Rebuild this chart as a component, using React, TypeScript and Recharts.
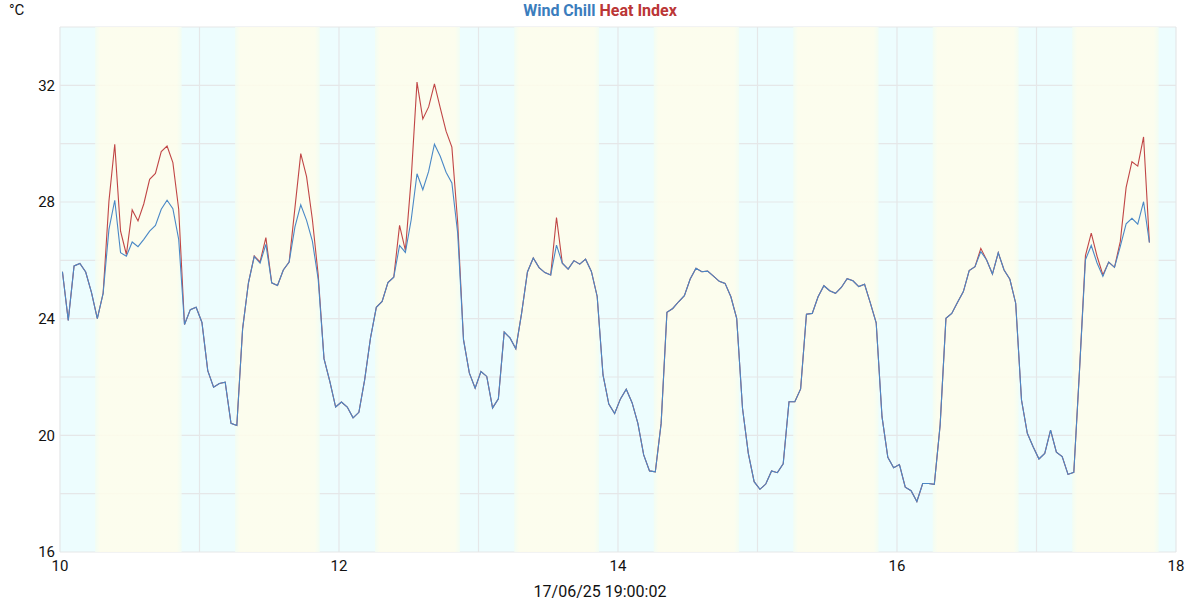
import React from "react";
import {
  LineChart,
  Line,
  XAxis,
  YAxis,
  CartesianGrid,
  ReferenceArea,
} from "recharts";

// Hourly readings, first reading at day 10 + ~24 min
const START_DAY = 10.0175;
const HOURS_PER_DAY = 24;

const windChill: number[] = [
  25.61, 23.94, 25.81, 25.89, 25.6, 24.89, 24.0, 24.87, 27.06, 28.06,
  26.26, 26.14, 26.63, 26.47, 26.72, 27.0, 27.2, 27.75, 28.06, 27.77,
  26.72, 23.8, 24.31, 24.39, 23.87, 22.22, 21.65, 21.78, 21.82, 20.41,
  20.34, 23.66, 25.23, 26.13, 25.9, 26.55, 25.23, 25.14, 25.67, 25.94,
  27.15, 27.9, 27.37, 26.66, 25.35, 22.63, 21.85, 20.97, 21.14, 20.97,
  20.6, 20.79, 21.91, 23.34, 24.39, 24.59, 25.24, 25.42, 26.51, 26.27,
  27.39, 28.97, 28.42, 29.05, 29.98, 29.57, 29.02, 28.65, 26.93, 23.28,
  22.14, 21.62, 22.19, 22.02, 20.94, 21.25, 23.54, 23.34, 22.97, 24.19,
  25.6, 26.08, 25.75, 25.58, 25.5, 26.52, 25.9, 25.7, 25.99, 25.87,
  26.04, 25.62, 24.76, 22.07, 21.07, 20.75, 21.25, 21.58, 21.12, 20.41,
  19.33, 18.78, 18.75, 20.41, 24.22, 24.35, 24.58, 24.79, 25.36, 25.73,
  25.61, 25.63, 25.46, 25.28, 25.21, 24.75, 24.01, 20.93, 19.38, 18.41,
  18.15, 18.33, 18.78, 18.72, 19.02, 21.15, 21.15, 21.59, 24.15, 24.18,
  24.75, 25.13, 24.96, 24.87, 25.07, 25.37, 25.3, 25.1, 25.18, 24.53,
  23.86, 20.64, 19.25, 18.89, 19.0, 18.22, 18.1, 17.73, 18.35, 18.35,
  18.32, 20.35, 24.01, 24.18, 24.56, 24.93, 25.65, 25.78, 26.3, 26.01,
  25.53, 26.26, 25.67, 25.35, 24.53, 21.21, 20.07, 19.61, 19.19, 19.38,
  20.18, 19.42, 19.27, 18.66, 18.73, 22.3, 26.02, 26.51, 25.91, 25.45,
  25.94, 25.76, 26.48, 27.25, 27.44, 27.24, 28.01, 26.61,
];

const heatIndex: number[] = [
  25.61, 23.94, 25.81, 25.89, 25.6, 24.89, 24.0, 24.87, 28.03, 29.98,
  27.0, 26.2, 27.73, 27.35, 27.94, 28.78, 28.98, 29.73, 29.92, 29.35,
  27.75, 23.8, 24.31, 24.39, 23.87, 22.22, 21.65, 21.78, 21.82, 20.41,
  20.34, 23.66, 25.23, 26.15, 25.95, 26.78, 25.23, 25.14, 25.67, 25.94,
  27.8, 29.66, 28.87, 27.4, 25.5, 22.63, 21.85, 20.97, 21.14, 20.97,
  20.6, 20.79, 21.91, 23.34, 24.39, 24.59, 25.24, 25.42, 27.2, 26.34,
  28.8, 32.11, 30.85, 31.26, 32.05, 31.23, 30.43, 29.88, 27.3, 23.28,
  22.14, 21.62, 22.19, 22.02, 20.94, 21.25, 23.54, 23.34, 22.97, 24.19,
  25.6, 26.08, 25.75, 25.58, 25.5, 27.47, 25.9, 25.7, 25.99, 25.87,
  26.04, 25.62, 24.76, 22.07, 21.07, 20.75, 21.25, 21.58, 21.12, 20.41,
  19.33, 18.78, 18.75, 20.41, 24.22, 24.35, 24.58, 24.79, 25.36, 25.73,
  25.61, 25.63, 25.46, 25.28, 25.21, 24.75, 24.01, 20.93, 19.38, 18.41,
  18.15, 18.33, 18.78, 18.72, 19.02, 21.15, 21.15, 21.59, 24.15, 24.18,
  24.75, 25.13, 24.96, 24.87, 25.07, 25.37, 25.3, 25.1, 25.18, 24.53,
  23.86, 20.64, 19.25, 18.89, 19.0, 18.22, 18.1, 17.73, 18.35, 18.35,
  18.32, 20.35, 24.01, 24.18, 24.56, 24.93, 25.65, 25.78, 26.41, 26.01,
  25.53, 26.26, 25.67, 25.35, 24.53, 21.21, 20.07, 19.61, 19.19, 19.38,
  20.18, 19.42, 19.27, 18.66, 18.73, 22.3, 26.16, 26.93, 26.14, 25.5,
  25.94, 25.76, 26.65, 28.5, 29.38, 29.23, 30.23, 26.61,
];

// Daylight bands [start, end] in day units
const dayStarts: number[] = [10.252, 11.255, 12.258, 13.256, 14.256, 15.256, 16.256, 17.256];
const dayEnds: number[] = [10.872, 11.862, 12.867, 13.864, 14.868, 15.868, 16.872, 17.876];

const xTicks: number[] = [10, 11, 12, 13, 14, 15, 16, 17, 18];
const xLabels: number[] = [10, 12, 14, 16, 18];
const yTicks: number[] = [16, 18, 20, 22, 24, 26, 28, 30, 32, 34];
const yLabels: number[] = [16, 20, 24, 28, 32];

const timestamp = "17/06/25 19:00:02";
const unit = "°C";

const BLUE = "#4a88c6";
const RED = "#c04646";
const NIGHT = "#edfdfe";
const DAY = "#fffdeb";
const EDGE = "#f3fdf2";
const GRID = "#e5e7e8";
const FONT = "Roboto, 'Noto Sans', sans-serif";

const data = windChill.map((w, i) => ({
  t: START_DAY + i / HOURS_PER_DAY,
  wc: w,
  hi: heatIndex[i],
}));

const XTick = (props: any) => {
  const { x, y, payload } = props;
  if (!xLabels.includes(payload.value)) return null;
  return (
    <text x={x} y={y} dy="0.71em" textAnchor="middle" fill="#111" fontSize={15} fontFamily={FONT}>
      {payload.value}
    </text>
  );
};

const YTick = (props: any) => {
  const { x, y, payload } = props;
  if (!yLabels.includes(payload.value)) return null;
  return (
    <text x={x} y={y} dy="0.355em" textAnchor="end" fill="#111" fontSize={15} fontFamily={FONT}>
      {payload.value}
    </text>
  );
};

export default function App() {
  return (
    <div
      style={{
        position: "absolute",
        left: 0,
        top: 0,
        width: 1200,
        height: 600,
        background: "#fff",
        fontFamily: FONT,
      }}
    >
      <svg width={0} height={0} style={{ position: "absolute" }}>
        <defs>
          <linearGradient id="dayBand" x1="0" y1="0" x2="1" y2="0">
            <stop offset="0" stopColor={EDGE} />
            <stop offset="0.06" stopColor={DAY} />
            <stop offset="0.94" stopColor={DAY} />
            <stop offset="1" stopColor={EDGE} />
          </linearGradient>
        </defs>
      </svg>
      <div style={{ position: "absolute", left: 9, top: 1, fontSize: 15, color: "#111" }}>{unit}</div>
      <div
        style={{
          position: "absolute",
          left: 0,
          width: 1200,
          top: 0,
          textAlign: "center",
          fontSize: 16,
          fontWeight: 700,
          lineHeight: "22px",
        }}
      >
        <span style={{ color: "#3b7dbd" }}>Wind Chill</span>{" "}
        <span style={{ color: "#bb3636" }}>Heat Index</span>
      </div>
      <div
        style={{
          position: "absolute",
          left: 0,
          width: 1200,
          top: 582,
          textAlign: "center",
          fontSize: 16,
          color: "#111",
          lineHeight: "20px",
        }}
      >
        {timestamp}
      </div>
      <LineChart
        width={1200}
        height={600}
        data={data}
        margin={{ top: 27, right: 24, bottom: 0, left: 0 }}
      >
        <CartesianGrid stroke={GRID} strokeWidth={1.2} fill={NIGHT} fillOpacity={1} horizontal vertical />
        {dayStarts.map((s, i) => (
          <ReferenceArea
            key={i}
            x1={s}
            x2={dayEnds[i]}
            y1={16}
            y2={34}
            fill="url(#dayBand)"
            fillOpacity={0.85}
            stroke="none"
            ifOverflow="hidden"
          />
        ))}
        <XAxis
          dataKey="t"
          type="number"
          domain={[10, 18]}
          ticks={xTicks}
          interval={0}
          height={48}
          tickSize={0}
          tickMargin={8}
          axisLine={false}
          tickLine={false}
          tick={<XTick />}
          allowDataOverflow
        />
        <YAxis
          type="number"
          domain={[16, 34]}
          ticks={yTicks}
          interval={0}
          width={60}
          tickSize={0}
          tickMargin={5}
          axisLine={false}
          tickLine={false}
          tick={<YTick />}
          allowDataOverflow
        />
        <Line
          type="linear"
          dataKey="hi"
          stroke={RED}
          strokeWidth={1.1}
          dot={false}
          activeDot={false}
          isAnimationActive={false}
        />
        <Line
          type="linear"
          dataKey="wc"
          stroke={BLUE}
          strokeWidth={1.1}
          dot={false}
          activeDot={false}
          isAnimationActive={false}
        />
      </LineChart>
    </div>
  );
}
